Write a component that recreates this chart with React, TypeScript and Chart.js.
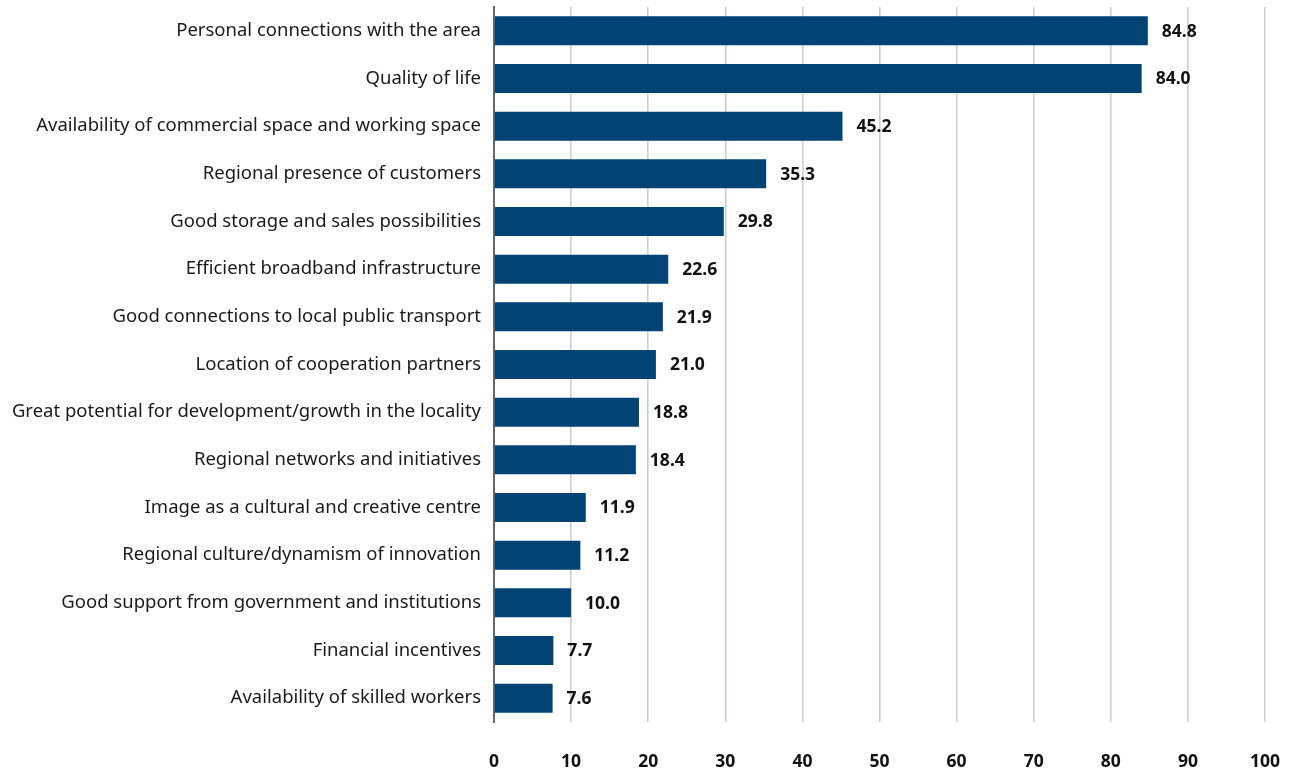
import React, { useEffect, useRef } from "react";
import { Chart, registerables } from "chart.js";

Chart.register(...registerables);

const categories = [
  "Personal connections with the area",
  "Quality of life",
  "Availability of commercial space and working space",
  "Regional presence of customers",
  "Good storage and sales possibilities",
  "Efficient broadband infrastructure",
  "Good connections to local public transport",
  "Location of cooperation partners",
  "Great potential for development/growth in the locality",
  "Regional networks and initiatives",
  "Image as a cultural and creative centre",
  "Regional culture/dynamism of innovation",
  "Good support from government and institutions",
  "Financial incentives",
  "Availability of skilled workers",
];

const values = [84.8, 84.0, 45.2, 35.3, 29.8, 22.6, 21.9, 21.0, 18.8, 18.4, 11.9, 11.2, 10.0, 7.7, 7.6];

const xTicks = [0, 10, 20, 30, 40, 50, 60, 70, 80, 90, 100];

const FONT = "'Noto Sans', sans-serif";

const valueLabels = {
  id: "valueLabels",
  afterDatasetsDraw(chart: any) {
    const ctx = chart.ctx;
    const meta = chart.getDatasetMeta(0);
    ctx.save();
    ctx.font = `bold 17.5px ${FONT}`;
    ctx.fillStyle = "#111";
    ctx.textAlign = "left";
    ctx.textBaseline = "middle";
    meta.data.forEach((bar: any, i: number) => {
      ctx.fillText(values[i].toFixed(1), bar.x + 14, bar.y + 1);
    });
    ctx.restore();
  },
};

export default function App() {
  const ref = useRef<HTMLCanvasElement>(null);
  useEffect(() => {
    if (!ref.current) return;
    const chart = new Chart(ref.current, {
      type: "bar",
      data: {
        labels: categories,
        datasets: [
          {
            data: values,
            backgroundColor: "#004374",
            categoryPercentage: 1,
            barPercentage: 0.61,
          },
        ],
      },
      options: {
        indexAxis: "y",
        animation: false,
        responsive: false,
        maintainAspectRatio: false,
        layout: { padding: { top: 7, right: 27, bottom: 0, left: 0 } },
        plugins: { legend: { display: false }, tooltip: { enabled: false } },
        scales: {
          x: {
            min: 0,
            max: 100,
            afterBuildTicks: (axis: any) => {
              axis.ticks = xTicks.map((v) => ({ value: v }));
            },
            afterFit: (axis: any) => {
              axis.height = 51;
              axis.paddingLeft = 0;
              axis.paddingRight = 0;
            },
            grid: { color: "#c9d1d8", lineWidth: 1.6, drawTicks: false },
            border: { display: false },
            ticks: {
              padding: 30,
              color: "#111",
              font: { family: FONT, size: 17.5, weight: "bold" },
            },
          },
          y: {
            afterFit: (axis: any) => {
              axis.width = 494;
              axis.paddingTop = 0;
              axis.paddingBottom = 0;
            },
            grid: { display: false, drawTicks: false },
            border: { display: true, color: "#666", width: 2 },
            ticks: {
              padding: 13,
              color: "#1a1a1a",
              font: { family: FONT, size: 18.5 },
            },
          },
        },
      },
      plugins: [valueLabels],
    });
    return () => chart.destroy();
  }, []);
  return (
    <div style={{ position: "fixed", left: 0, top: 0, width: 1292, height: 773, background: "#fff" }}>
      <canvas ref={ref} width={1292} height={773} />
    </div>
  );
}
